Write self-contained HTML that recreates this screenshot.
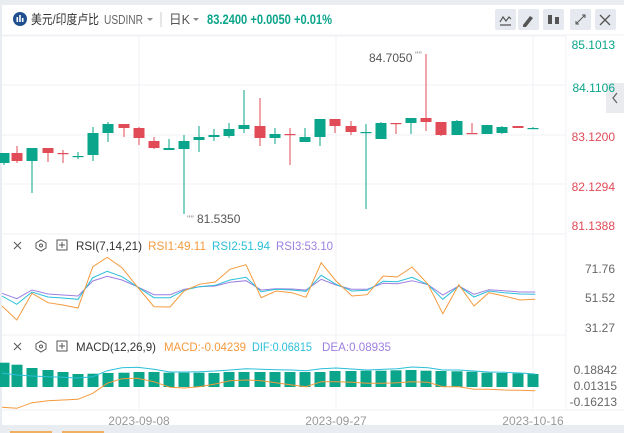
<!DOCTYPE html>
<html><head><meta charset="utf-8"><style>
html,body{margin:0;padding:0;width:624px;height:433px;overflow:hidden;background:#e9edf2;font-family:"Liberation Sans","Noto Sans CJK SC",sans-serif}
svg{display:block}
</style></head><body>
<svg width="624" height="433" viewBox="0 0 624 433" xmlns="http://www.w3.org/2000/svg" font-family="Liberation Sans, Noto Sans CJK SC, sans-serif">
<rect x="0" y="0" width="624" height="433" fill="#e9edf2"/>
<rect x="2" y="5" width="622" height="420" fill="#fff"/>
<circle cx="20" cy="19" r="7" fill="#1f4f8f"/>
<rect x="16.5" y="17" width="1.6" height="5" fill="#fff"/><rect x="19.2" y="15" width="1.6" height="7" fill="#fff"/><rect x="21.9" y="18" width="1.6" height="4" fill="#fff"/>
<text x="31" y="24" font-size="13" fill="#333" textLength="68" lengthAdjust="spacingAndGlyphs">美元/印度卢比</text>
<text x="104" y="24" font-size="13" fill="#666" textLength="39" lengthAdjust="spacingAndGlyphs">USDINR</text>
<path d="M147 18l3 3 3-3z" fill="#888"/>
<line x1="161" y1="12" x2="161" y2="27" stroke="#ccc"/>
<text x="169" y="24" font-size="13" fill="#555" textLength="21" lengthAdjust="spacingAndGlyphs">日K</text>
<path d="M193 18l3 3 3-3z" fill="#888"/>
<text x="207" y="24" font-size="14" font-weight="bold" fill="#0aa58a" textLength="125" lengthAdjust="spacingAndGlyphs">83.2400  +0.0050  +0.01%</text>
<g fill="#e6e9ef"><rect x="495" y="9" width="21" height="21" rx="2"/><rect x="518" y="9" width="21" height="21" rx="2"/><rect x="543" y="9" width="21" height="21" rx="2"/><rect x="570" y="9" width="21" height="21" rx="2"/><rect x="595" y="9" width="21" height="21" rx="2"/></g>
<path d="M500 22l3-5 3 4 3-4 2 2M500 25h11" stroke="#555" fill="none" stroke-width="1.2"/>
<path d="M523 25l7-9 3 2-7 9h-3z" fill="#555"/>
<rect x="548" y="15" width="4" height="9" fill="#555"/><rect x="555" y="17" width="4" height="7" fill="#555"/>
<path d="M576 24l9-9M582 15h3v3M576 21v3h3" stroke="#555" fill="none"/>
<path d="M600 15l10 10M610 15l-10 10" stroke="#555" stroke-width="1.3"/>
<line x1="2" y1="35" x2="624" y2="35" stroke="#eef0f3"/>
<g stroke="#f0f2f5" stroke-width="1">
<line x1="2" y1="36" x2="566" y2="36"/><line x1="2" y1="85" x2="566" y2="85"/><line x1="2" y1="135" x2="566" y2="135"/><line x1="2" y1="184" x2="566" y2="184"/><line x1="2" y1="234" x2="566" y2="234"/>
<line x1="139" y1="36" x2="139" y2="410"/><line x1="336" y1="36" x2="336" y2="410"/><line x1="533" y1="36" x2="533" y2="410"/>
<line x1="566" y1="36" x2="566" y2="410"/>
<line x1="2" y1="335" x2="566" y2="335"/>
</g>
<rect x="606" y="83" width="18" height="30" fill="#e9ebef"/>
<path d="M617 93l-4 5 4 5" stroke="#666" fill="none" stroke-width="1.3"/>
<g font-size="12" text-anchor="end">
<text x="615" y="49" fill="#0aa58a">85.1013</text>
<text x="615" y="92" fill="#0aa58a">84.1106</text>
<text x="615" y="141" fill="#e04b57">83.1200</text>
<text x="615" y="191" fill="#e04b57">82.1294</text>
<text x="615" y="230" fill="#e04b57">81.1388</text>
</g>
<g id="c"></g>
<text x="369" y="62" font-size="12" fill="#555">84.7050</text>
<text x="415" y="58" font-size="9" fill="#888">''''</text>
<text x="187" y="222" font-size="9" fill="#888">''''</text>
<text x="197" y="223" font-size="12" fill="#555">81.5350</text>
<g font-size="12">
<path d="M14 242l7 7M21 242l-7 7" stroke="#555"/>
<path d="M41 240l5 3v5l-5 3-5-3v-5z" stroke="#555" fill="none"/><circle cx="41" cy="245.5" r="1.5" stroke="#555" fill="none"/>
<rect x="57" y="240" width="10" height="10" stroke="#555" fill="none"/><path d="M62 242v6M59 245h6" stroke="#555"/>
<text x="76" y="250" fill="#333" textLength="66" lengthAdjust="spacingAndGlyphs">RSI(7,14,21)</text>
<text x="148" y="250" fill="#f59a3d" textLength="58" lengthAdjust="spacingAndGlyphs">RSI1:49.11</text>
<text x="212" y="250" fill="#2bbfd8" textLength="58" lengthAdjust="spacingAndGlyphs">RSI2:51.94</text>
<text x="276" y="250" fill="#9d7fe0" textLength="57" lengthAdjust="spacingAndGlyphs">RSI3:53.10</text>
<text x="615" y="273" fill="#666" text-anchor="end">71.76</text>
<text x="615" y="302" fill="#666" text-anchor="end">51.52</text>
<text x="615" y="332" fill="#666" text-anchor="end">31.27</text>
</g>
<g id="r" fill="none" stroke-width="1"></g>
<g font-size="12">
<path d="M14 343l7 7M21 343l-7 7" stroke="#555"/>
<path d="M41 341l5 3v5l-5 3-5-3v-5z" stroke="#555" fill="none"/><circle cx="41" cy="346.5" r="1.5" stroke="#555" fill="none"/>
<rect x="57" y="341" width="10" height="10" stroke="#555" fill="none"/><path d="M62 343v6M59 346h6" stroke="#555"/>
<text x="76" y="351" fill="#333" textLength="80" lengthAdjust="spacingAndGlyphs">MACD(12,26,9)</text>
<text x="164" y="351" fill="#f59a3d" textLength="82" lengthAdjust="spacingAndGlyphs">MACD:-0.04239</text>
<text x="252" y="351" fill="#2bbfd8" textLength="60" lengthAdjust="spacingAndGlyphs">DIF:0.06815</text>
<text x="322" y="351" fill="#9d7fe0" textLength="69" lengthAdjust="spacingAndGlyphs">DEA:0.08935</text>
<text x="617" y="374" fill="#666" text-anchor="end">0.18842</text>
<text x="617" y="390" fill="#666" text-anchor="end">0.01315</text>
<text x="617" y="406" fill="#666" text-anchor="end">-0.16213</text>
</g>
<g id="m"></g>
<line x1="2" y1="410" x2="624" y2="410" stroke="#eef0f3"/>
<g font-size="12" fill="#999" text-anchor="middle">
<text x="139" y="425">2023-09-08</text><text x="336" y="425">2023-09-27</text><text x="533" y="425">2023-10-16</text>
</g>
<rect x="10" y="431" width="42" height="3" fill="#f0b060"/><rect x="62" y="431" width="42" height="3" fill="#f0b060"/>
</svg>
<script>
var NS="http://www.w3.org/2000/svg";
function el(p,t,a){var e=document.createElementNS(NS,t);for(var k in a)e.setAttribute(k,a[k]);p.appendChild(e);return e;}
var xs=[4,17,32,48,63,78,93,108,124,139,154,169,184,199,214,229,244,260,275,290,305,320,335,351,366,381,396,411,426,441,457,472,487,502,518,533];
var C=[[1,153,163,153,165],[0,153,161,146,163],[1,148,161,148,193],[0,148,153,148,162],[0,153,154,150,163],[1,156,157,152,159],[1,133,155,127,161],[1,124,133,122,142],[0,124,128,124,137],[0,128,138,127,145],[0,141,148,137,149],[1,148,150,139,150],[1,141,149,135,214],[1,137,140,126,152],[1,135,137,129,141],[1,129,136,123,138],[1,125,129,90,133],[0,126,138,98,146],[1,134,138,128,144],[0,134,135,128,165],[1,137,142,128,142],[1,119,137,119,146],[0,119,126,119,133],[0,126,132,121,135],[1,132,133,124,209],[1,123,139,122,139],[0,123,124,123,134],[1,118,123,118,134],[0,118,122,54,131],[0,122,135,122,136],[1,121,135,120,135],[0,133,134,123,134],[1,125,134,125,134],[1,127,133,126,134],[0,126,128,126,128],[1,128,129,127,129]];
var g=document.getElementById('c');
C.forEach(function(c,i){var col=c[0]?'#0aa58a':'#e04b57';var x=xs[i];
el(g,'line',{x1:x,x2:x,y1:c[3],y2:c[4],stroke:col,'stroke-width':1});
el(g,'rect',{x:x-5.5,y:c[1],width:11,height:Math.max(1.2,c[2]-c[1]),fill:col});});
var zx=[5,42,80,120,157,195,232,268,305,343,385,425,460,498,538,575,615,653,690,730,765,803,840,880,918,958,993,1030,1070,1107,1147,1185,1222,1260,1300,1338];
function line(p,ys,off,col){var pts=ys.map(function(y,i){return (zx[i]/2.5).toFixed(1)+','+(off+y/3).toFixed(1)}).join(' ');el(p,'polyline',{points:pts,stroke:col,fill:'none','stroke-width':1});}
var r=document.getElementById('r');
line(r,[172,188,162,174,177,180,135,121,132,152,176,176,160,152,150,139,134,162,158,159,162,130,147,160,160,142,143,134,146,177,150,175,161,164,168,168],236,'#9d7fe0');
line(r,[180,205,168,183,186,190,125,106,122,152,185,185,163,152,148,132,124,167,160,162,166,118,145,165,163,136,137,124,146,190,150,183,165,170,174,175],236,'#2bbfd8');
line(r,[210,252,172,200,207,216,92,64,95,152,212,213,165,145,138,100,86,185,165,170,184,80,135,180,176,120,123,93,145,233,146,210,170,180,192,190],236,'#f59a3d');
var m=document.getElementById('m');
var tops=[98,104,114,120,126,132,131,129,128,126,126,128,128,128,129,126,126,126,126,126,126,126,123,123,122,122,121,120,122,123,124,125,128,129,130,132];
tops.forEach(function(t,i){var y=330+t/3;el(m,'rect',{x:xs[i]-5.5,y:y.toFixed(1),width:11,height:(387-y).toFixed(1),fill:'#0aa58a'});});
line(m,[130,135,138,140,142,144,140,122,113,112,118,126,126,125,123,120,116,118,119,120,122,116,114,117,120,118,116,111,113,120,120,123,126,127,129,132],330,'#2bbfd8');
line(m,[232,235,218,212,210,208,190,160,146,145,155,172,174,170,162,152,150,152,158,165,170,155,155,157,160,160,158,155,157,170,170,178,178,180,181,182],330,'#f59a3d');
</script>
</body></html>
